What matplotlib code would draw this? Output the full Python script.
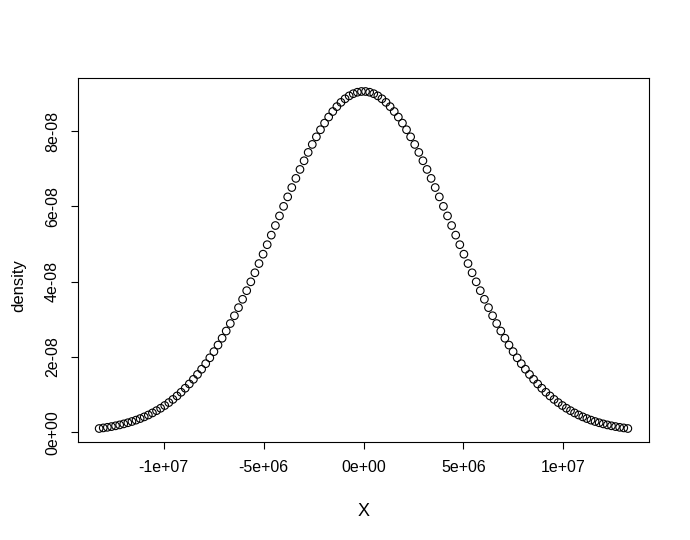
import matplotlib
matplotlib.use("Agg")
import matplotlib.pyplot as plt
import numpy as np

plt.rcParams['font.family'] = ['Liberation Sans', 'DejaVu Sans']

# x in units of 1e6, density in units of 1e-8
x_mil = [-13.222, -13.017, -12.812, -12.607, -12.402, -12.197, -11.992, -11.787,
         -11.582, -11.377, -11.172, -10.967, -10.762, -10.557, -10.352, -10.147,
         -9.942, -9.737, -9.532, -9.327, -9.122, -8.917, -8.712, -8.507, -8.302,
         -8.097, -7.892, -7.687, -7.482, -7.277, -7.072, -6.867, -6.662, -6.457,
         -6.252, -6.047, -5.842, -5.637, -5.432, -5.227, -5.022, -4.817, -4.612,
         -4.407, -4.202, -3.997, -3.792, -3.587, -3.382, -3.177, -2.972, -2.767,
         -2.562, -2.357, -2.152, -1.947, -1.742, -1.537, -1.332, -1.127, -0.922,
         -0.717, -0.512, -0.307, -0.102,
         0.102, 0.307, 0.512, 0.717, 0.922, 1.127, 1.332, 1.537, 1.742, 1.947,
         2.152, 2.357, 2.562, 2.767, 2.972, 3.177, 3.382, 3.587, 3.792, 3.997,
         4.202, 4.407, 4.612, 4.817, 5.022, 5.227, 5.432, 5.637, 5.842, 6.047,
         6.252, 6.457, 6.662, 6.867, 7.072, 7.277, 7.482, 7.687, 7.892, 8.097,
         8.302, 8.507, 8.712, 8.917, 9.122, 9.327, 9.532, 9.737, 9.942, 10.147,
         10.352, 10.557, 10.762, 10.967, 11.172, 11.377, 11.582, 11.787, 11.992,
         12.197, 12.402, 12.607, 12.812, 13.017, 13.222]

density_e8 = [0.100, 0.116, 0.132, 0.151, 0.172, 0.196, 0.223, 0.253, 0.286, 0.323,
              0.364, 0.409, 0.459, 0.514, 0.574, 0.639, 0.711, 0.789, 0.873, 0.965,
              1.063, 1.170, 1.284, 1.406, 1.536, 1.675, 1.822, 1.978, 2.142, 2.316,
              2.498, 2.689, 2.888, 3.095, 3.310, 3.532, 3.761, 3.996, 4.236, 4.481,
              4.730, 4.982, 5.236, 5.491, 5.746, 6.000, 6.252, 6.500, 6.743, 6.981,
              7.211, 7.433, 7.645, 7.846, 8.035, 8.211, 8.372, 8.519, 8.649, 8.762,
              8.857, 8.934, 8.992, 9.031, 9.051,
              9.051, 9.031, 8.992, 8.934, 8.857, 8.762, 8.649, 8.519, 8.372, 8.211,
              8.035, 7.846, 7.645, 7.433, 7.211, 6.981, 6.743, 6.500, 6.252, 6.000,
              5.746, 5.491, 5.236, 4.982, 4.730, 4.481, 4.236, 3.996, 3.761, 3.532,
              3.310, 3.095, 2.888, 2.689, 2.498, 2.316, 2.142, 1.978, 1.822, 1.675,
              1.536, 1.406, 1.284, 1.170, 1.063, 0.965, 0.873, 0.789, 0.711, 0.639,
              0.574, 0.514, 0.459, 0.409, 0.364, 0.323, 0.286, 0.253, 0.223, 0.196,
              0.172, 0.151, 0.132, 0.116, 0.100]

xticks = [-1e7, -5e6, 0, 5e6, 1e7]
xtick_labels = ["-1e+07", "-5e+06", "0e+00", "5e+06", "1e+07"]
yticks = [0, 2e-8, 4e-8, 6e-8, 8e-8]
ytick_labels = ["0e+00", "2e-08", "4e-08", "6e-08", "8e-08"]

x = np.array(x_mil) * 1e6
y = np.array(density_e8) * 1e-8

fig = plt.figure(figsize=(6.9, 5.4), dpi=100)
ax = fig.add_axes([78 / 690, 1 - 442 / 540, 571 / 690, 364 / 540])

ax.scatter(x, y, s=30, facecolors='none', edgecolors='black', linewidths=0.8)

# R style 4% padding
xr = x.max() - x.min()
yr = y.max() - y.min()
ax.set_xlim(x.min() - 0.04 * xr, x.max() + 0.04 * xr)
ax.set_ylim(y.min() - 0.04 * yr, y.max() + 0.04 * yr)

ax.set_xticks(xticks)
ax.set_xticklabels(xtick_labels)
ax.set_yticks(yticks)
ax.set_yticklabels(ytick_labels, rotation=90, va='center')
ax.tick_params(direction='out', length=5, width=0.8, labelsize=11.5, pad=8)

for s in ax.spines.values():
    s.set_linewidth(0.8)

ax.set_xlabel("X", fontsize=13, labelpad=20)
ax.set_ylabel("density", fontsize=12)
ax.yaxis.set_label_coords(-0.09, 0.43)

fig.savefig("out.png", dpi=100)
